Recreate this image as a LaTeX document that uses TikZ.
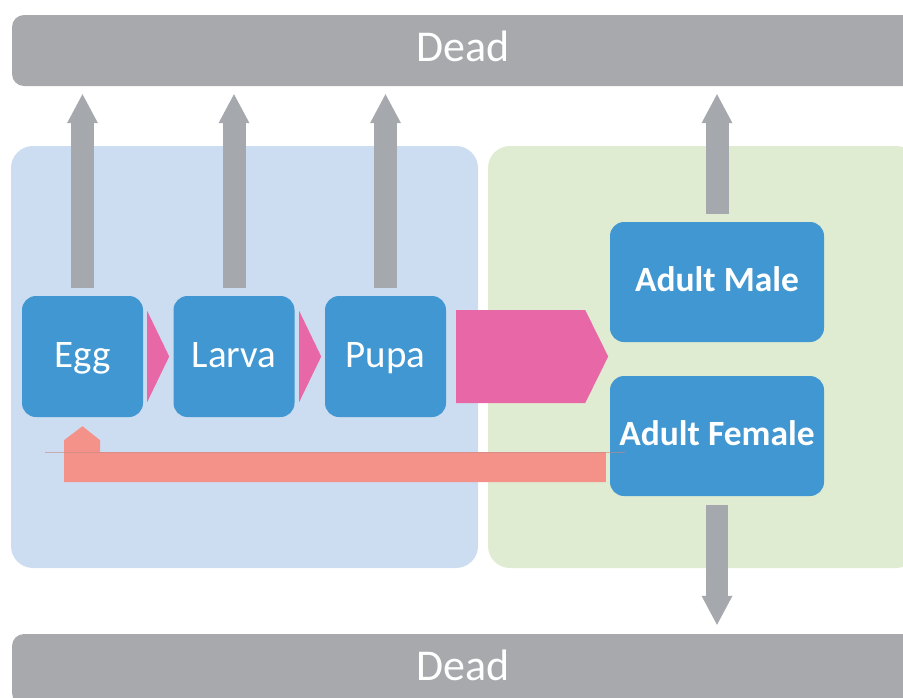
\documentclass[tikz,border=0pt]{standalone}
\usepackage{fontspec}
\setmainfont{Carlito}
\usetikzlibrary{arrows.meta, calc}

\definecolor{deadgray}{RGB}{168,169,173}
\definecolor{arrowgray}{RGB}{165,168,172}
\definecolor{stageblue}{RGB}{64,151,209}
\definecolor{juvpanel}{RGB}{204,221,241}
\definecolor{adultpanel}{RGB}{224,236,209}
\definecolor{growpink}{RGB}{232,103,166}
\definecolor{eggsalmon}{RGB}{244,146,138}

\begin{document}
\begin{tikzpicture}[x=1pt, y=-1pt,
  stage/.style={fill=stageblue, rounded corners=14pt, text=white, inner sep=0pt,
    minimum width=121pt, minimum height=121pt, text height=28pt, text depth=7pt,
    font=\fontsize{39}{44}\selectfont},
  adult/.style={stage, minimum width=214pt, minimum height=120pt,
    text height=24pt, text depth=6pt, font=\bfseries\fontsize{35.5}{40}\selectfont},
  dead/.style={fill=deadgray, rounded corners=12pt, text=white, inner sep=0pt,
    minimum width=903pt, minimum height=71pt, text height=30pt, text depth=8pt,
    font=\fontsize{44}{50}\selectfont},
  panel/.style={rounded corners=22pt, inner sep=0pt, minimum height=422pt},
  death/.style={draw=arrowgray, line width=23pt,
    -{Triangle[length=29pt, width=31pt, line width=0pt]},
    shorten <=8pt, shorten >=8pt},
]
  \useasboundingbox (0,0) rectangle (903,697);
  \clip (0,0) rectangle (903,697);

  % Background panels
  \node[panel, fill=juvpanel, minimum width=467pt] (juvenile) at (244.5, 357) {};
  \node[panel, fill=adultpanel, minimum width=430pt] (adults) at (703, 357) {};

  % Dead bars
  \node[dead] (deadtop) at (463.5, 50.5) {Dead};
  \node[dead] (deadbot) at (463.5, 669.5) {Dead};

  % Stages
  \node[stage] (egg) at (82.5, 356.5) {Egg};
  \node[stage] (larva) at (234, 356.5) {Larva};
  \node[stage] (pupa) at (385.5, 356.5) {Pupa};
  \node[adult] (male) at (717, 282) {Adult Male};
  \node[adult] (female) at (717, 436) {Adult Female};

  % Deaths
  \foreach \s in {egg, larva, pupa, male}
    \draw[death] (\s.north) -- (\s.north |- deadtop.south);
  \draw[death, line width=22pt, shorten <=9pt, shorten >=9pt]
    (female.south) -- (female.south |- deadbot.north);

  % Development
  \fill[growpink] ($(egg.east)+(4,-45.5)$) -- ($(egg.east)+(26,0)$)
    -- ($(egg.east)+(4,45.5)$) -- cycle;
  \fill[growpink] ($(larva.east)+(4.5,-45.5)$) -- ($(larva.east)+(26.5,0)$)
    -- ($(larva.east)+(4.5,45.5)$) -- cycle;
  \fill[growpink] ($(pupa.east)+(10,-46.5)$) -- ($(pupa.east)+(139,-46.5)$)
    -- ($(pupa.east)+(162,0)$) -- ($(pupa.east)+(139,46.5)$)
    -- ($(pupa.east)+(10,46.5)$) -- cycle;

  % Egg laying
  \coordinate (fbtop) at ($(female.west)+(-4,16)$);
  \coordinate (fbbot) at ($(female.west)+(-4,46)$);
  \coordinate (fbhead) at ($(egg.south)+(0,9)$);
  \fill[eggsalmon] (fbtop) -- (fbbot) -| ($(egg.south)+(-18.5,23)$) -- (fbhead)
    -- ($(egg.south)+(17.5,23)$) |- (fbtop) -- cycle;
  \draw[eggsalmon!60!gray, line width=0.35pt, opacity=0.6]
    ($(fbtop)+(-561,0)$) -- ($(fbtop)+(19,0)$);
\end{tikzpicture}
\end{document}
